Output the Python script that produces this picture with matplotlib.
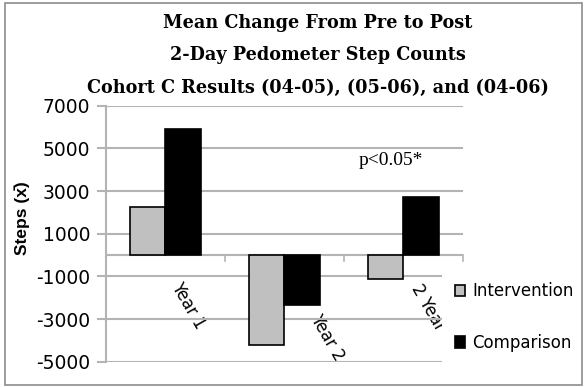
## mean change in pedometer step counts, cohort C

import numpy as np
import matplotlib
matplotlib.use("Agg")
import matplotlib.pyplot as plt
from matplotlib.patches import Rectangle

categories = ["Year 1", "Year 2", "2 Year"]
intervention = [2250, -4230, -1140]
comparison = [5900, -2360, 2740]
series_names = ["Intervention", "Comparison"]
y_ticks = [7000, 5000, 3000, 1000, -1000, -3000, -5000]

title_lines = ["Mean Change From Pre to Post",
               "2-Day Pedometer Step Counts",
               "Cohort C Results (04-05), (05-06), and (04-06)"]

grid_col = "#b4b4b4"

fig = plt.figure(figsize=(5.84, 3.87), dpi=100)
ax = fig.add_axes([0.1815, 0.0654, 0.6113, 0.6615])

x = np.arange(len(categories))
w = 0.3
ax.bar(x - w/2, intervention, w, color="#c0c0c0", edgecolor="black", linewidth=1.2,
       label=series_names[0], zorder=3)
ax.bar(x + w/2, comparison, w, color="black", edgecolor="black", linewidth=1.2,
       label=series_names[1], zorder=3)

ax.set_xlim(-0.5, 2.5)
ax.set_ylim(-5000, 7000)
ax.set_yticks(y_ticks)
ax.set_yticklabels([str(v) for v in y_ticks], fontsize=13.5, family="DejaVu Sans")
ax.grid(axis="y", color=grid_col, linewidth=1.5, zorder=0)
ax.axhline(0, color=grid_col, linewidth=1.5, zorder=2)

# category boundary ticks on the zero line
ax.set_xticks([])
for b in [0.5, 1.5, 2.5]:
    ax.plot([b, b], [0, -300], color=grid_col, linewidth=1.2, zorder=2, clip_on=False)

for s in ["top", "right", "bottom"]:
    ax.spines[s].set_visible(False)
ax.spines["left"].set_color(grid_col)
ax.spines["left"].set_linewidth(1.5)
ax.tick_params(axis="y", length=6.5, color=grid_col, width=1.5, pad=5)

# rotated category labels
label_pos = [(0.021, -1140), (1.189, -2640), (2.03, -1230)]
for name, (lx, ly) in zip(categories, label_pos):
    ax.text(lx, ly, name, rotation=-60, ha="left", va="top", fontsize=12,
            family="DejaVu Sans", zorder=1)

ax.text(1.89, 4450, "p<0.05*", ha="center", va="center", fontsize=14,
        family="Liberation Serif")

ax.set_ylabel("Steps (x\u0304)", fontsize=12.5, fontweight="bold", family="Liberation Sans")
ax.yaxis.set_label_coords(-0.213, 0.561)

leg = ax.legend(loc="upper left", bbox_to_anchor=(442/584, 1 - 270/387),
                bbox_transform=fig.transFigure, frameon=True, fancybox=False,
                edgecolor="none", facecolor="white", framealpha=1,
                handlelength=0.65, handleheight=0.65,
                labelspacing=2.0, handletextpad=0.42, borderpad=0.75,
                borderaxespad=0, prop={"family": "DejaVu Sans", "size": 12})
leg.set_zorder(10)

for i, line in enumerate(title_lines):
    fig.text(317.5/584, 1 - (23 + 32.5*i)/387, line, ha="center", va="center",
             fontsize=12.7, fontweight="bold", family="DejaVu Serif")

fig.patches.append(Rectangle((5/584, 2/387), 577/584, 382/387, transform=fig.transFigure,
                             fill=False, edgecolor="#8c8c8c", linewidth=1.2))

fig.savefig("out.png", dpi=100)
